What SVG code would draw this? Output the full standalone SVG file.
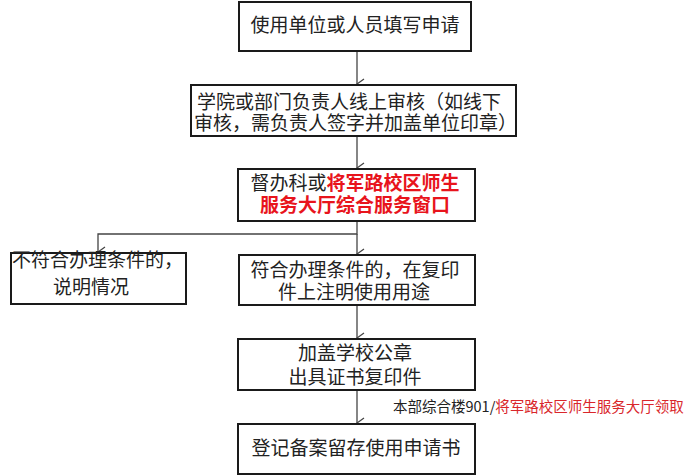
<svg xmlns="http://www.w3.org/2000/svg" width="700" height="475" viewBox="0 0 700 475">
<defs>
<style>
.box{fill:#fff;stroke:#1a1a1a;stroke-width:2}
.t{font-family:"Microsoft YaHei","Noto Sans CJK SC","Noto Sans",sans-serif;font-size:19px;fill:#222}
.red{fill:#e8141c;font-weight:bold}
.note{font-family:"Noto Sans CJK SC","Noto Sans",sans-serif;font-size:14.5px;fill:#222}
.nred{fill:#d9262b}
.c{fill:none;stroke:#444;stroke-width:1.3}
</style>
<marker id="ah" viewBox="0 0 12 12" refX="6" refY="11" markerWidth="12" markerHeight="12" markerUnits="userSpaceOnUse" orient="auto-start-reverse">
<polyline points="1,4 6,11 11,4" fill="none" stroke="#444" stroke-width="1.3"/>
</marker>
</defs>
<rect width="700" height="475" fill="#fff"/>
<g id="connectors">
<line class="c" x1="357" y1="51" x2="357" y2="84" marker-end="url(#ah)"/>
<line class="c" x1="357" y1="136" x2="357" y2="168" marker-end="url(#ah)"/>
<polyline class="c" points="357,221 357,234 98,234 98,252" marker-end="url(#ah)"/>
<line class="c" x1="357" y1="234" x2="357" y2="254" marker-end="url(#ah)"/>
<line class="c" x1="357" y1="305" x2="357" y2="338" marker-end="url(#ah)"/>
<line class="c" x1="357" y1="390" x2="357" y2="423" marker-end="url(#ah)"/>
</g>
<g id="n1">
<rect class="box" x="239" y="2" width="232" height="49"/>
<text class="t" x="355" y="32" text-anchor="middle">使用单位或人员填写申请</text>
</g>
<g id="n2">
<rect class="box" x="191" y="85" width="325" height="51"/>
<text class="t" x="197" y="109">学院或部门负责人线上审核（如线下</text>
<text class="t" x="194" y="130">审核，需负责人签字并加盖单位印章）</text>
</g>
<g id="n3">
<rect class="box" x="238" y="169" width="237" height="52"/>
<text class="t" x="355" y="190" text-anchor="middle">督办科或<tspan class="red">将军路校区师生</tspan></text>
<text class="t red" x="355" y="212" text-anchor="middle">服务大厅综合服务窗口</text>
</g>
<g id="n4">
<rect class="box" x="11" y="253" width="175" height="51"/>
<text class="t" x="12" y="267">不符合办理条件的，</text>
<text class="t" x="53" y="294">说明情况</text>
</g>
<g id="n5">
<rect class="box" x="239" y="255" width="236" height="50"/>
<text class="t" x="355" y="277" text-anchor="middle">符合办理条件的，在复印</text>
<text class="t" x="354" y="299" text-anchor="middle">件上注明使用用途</text>
</g>
<g id="n6">
<rect class="box" x="238" y="339" width="237" height="51"/>
<text class="t" x="355" y="360" text-anchor="middle">加盖学校公章</text>
<text class="t" x="355" y="384" text-anchor="middle">出具证书复印件</text>
</g>
<g id="n7">
<rect class="box" x="238" y="424" width="237" height="50"/>
<text class="t" x="356" y="455" text-anchor="middle">登记备案留存使用申请书</text>
</g>
<text class="note" x="393" y="412">本部综合楼901/<tspan class="nred">将军路校区师生服务大厅领取</tspan></text>
</svg>
